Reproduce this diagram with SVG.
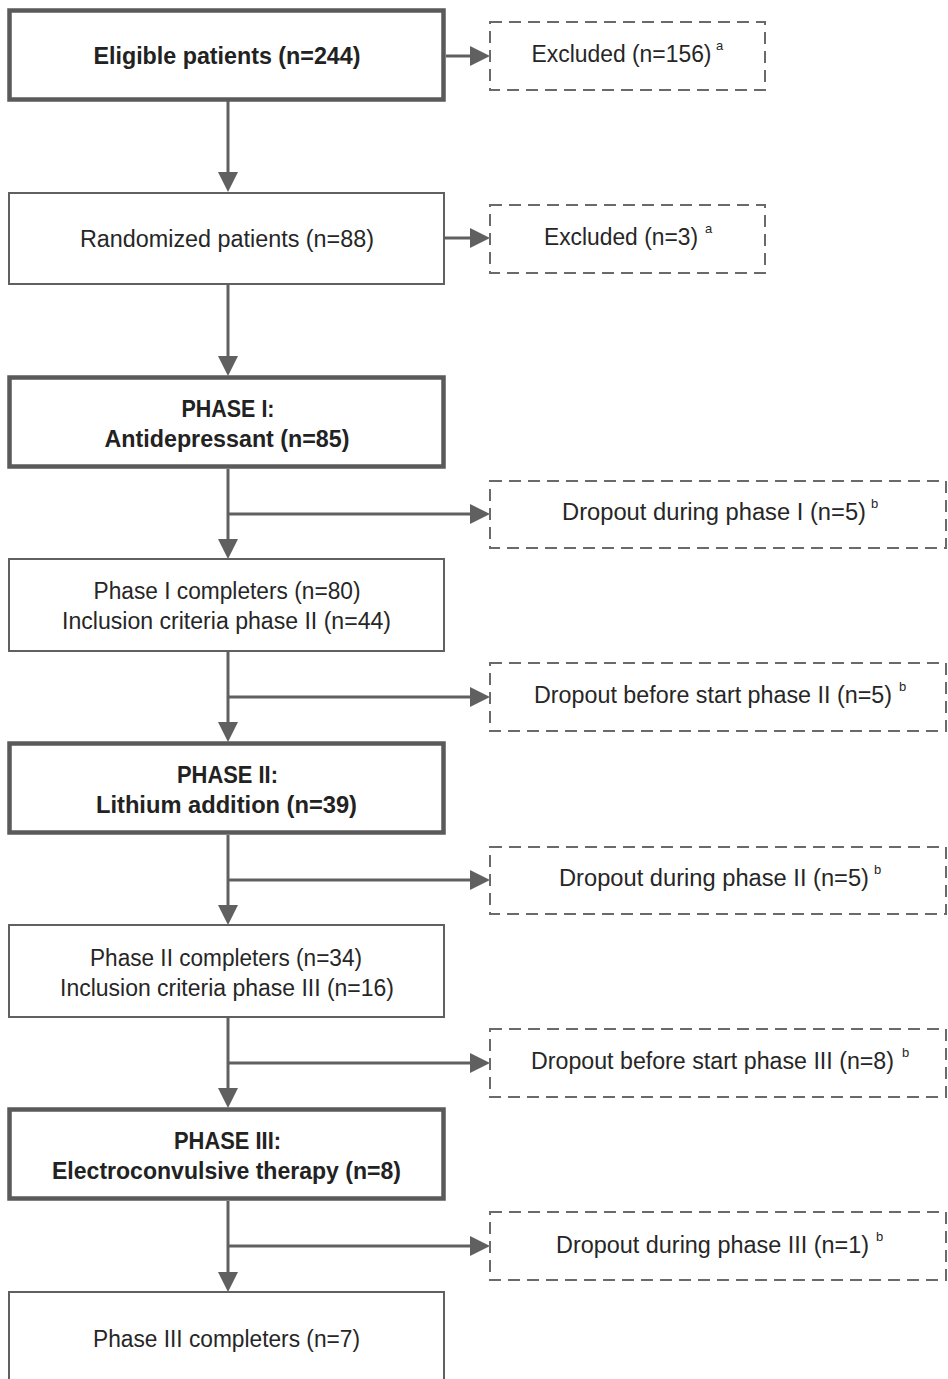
<svg xmlns="http://www.w3.org/2000/svg" width="948" height="1379" viewBox="0 0 948 1379">
<style>
.box{fill:#fff;stroke:#606060;stroke-width:2}
.bold{fill:#fff;stroke:#5a5a5a;stroke-width:4.5}
.dash{fill:#fff;stroke:#6a6a6a;stroke-width:2;stroke-dasharray:12 7}
.t{font-family:"Liberation Sans",Arial,sans-serif;font-size:23px;fill:#262626;text-anchor:middle}
.tb{font-family:"Liberation Sans",Arial,sans-serif;font-size:23px;font-weight:bold;fill:#222;text-anchor:middle}
.s{font-family:"Liberation Sans",Arial,sans-serif;font-size:13px;fill:#262626}
.c{fill:none;stroke:#606060;stroke-width:3}
</style>
<defs>
<marker id="ah" viewBox="0 0 20 20" refX="10" refY="10" markerWidth="20" markerHeight="20" markerUnits="userSpaceOnUse" orient="auto">
<path d="M0,0 L20,10 L0,20 z" fill="#606060"/>
</marker>
</defs>
<g id="connectors">
<line class="c" x1="446" y1="56" x2="480" y2="56" marker-end="url(#ah)"/>
<line class="c" x1="228" y1="101" x2="228" y2="182" marker-end="url(#ah)"/>
<line class="c" x1="445" y1="238" x2="480" y2="238" marker-end="url(#ah)"/>
<line class="c" x1="228" y1="285" x2="228" y2="366" marker-end="url(#ah)"/>
<line class="c" x1="228" y1="469" x2="228" y2="549" marker-end="url(#ah)"/>
<line class="c" x1="228" y1="514" x2="480" y2="514" marker-end="url(#ah)"/>
<line class="c" x1="228" y1="652" x2="228" y2="732" marker-end="url(#ah)"/>
<line class="c" x1="228" y1="697" x2="480" y2="697" marker-end="url(#ah)"/>
<line class="c" x1="228" y1="835" x2="228" y2="915" marker-end="url(#ah)"/>
<line class="c" x1="228" y1="880" x2="480" y2="880" marker-end="url(#ah)"/>
<line class="c" x1="228" y1="1018" x2="228" y2="1098" marker-end="url(#ah)"/>
<line class="c" x1="228" y1="1063" x2="480" y2="1063" marker-end="url(#ah)"/>
<line class="c" x1="228" y1="1201" x2="228" y2="1282" marker-end="url(#ah)"/>
<line class="c" x1="228" y1="1246" x2="480" y2="1246" marker-end="url(#ah)"/>
</g>
<g id="eligible">
<rect class="bold" x="9.5" y="10.5" width="434" height="89"/>
<text class="tb" x="227" y="64" textLength="267" lengthAdjust="spacingAndGlyphs">Eligible patients (n=244)</text>
</g>
<g id="excluded1">
<rect class="dash" x="490" y="22" width="275" height="68"/>
<text class="t" x="621.5" y="62" textLength="180" lengthAdjust="spacingAndGlyphs">Excluded (n=156)</text>
<text class="s" x="716" y="50">a</text>
</g>
<g id="randomized">
<rect class="box" x="9" y="193" width="435" height="91"/>
<text class="t" x="227" y="247" textLength="294" lengthAdjust="spacingAndGlyphs">Randomized patients (n=88)</text>
</g>
<g id="excluded2">
<rect class="dash" x="490" y="205" width="275" height="68"/>
<text class="t" x="621" y="245" textLength="154" lengthAdjust="spacingAndGlyphs">Excluded (n=3)</text>
<text class="s" x="705" y="233">a</text>
</g>
<g id="phase1">
<rect class="bold" x="9.5" y="377.5" width="434" height="89"/>
<text class="tb" x="228" y="417" textLength="93" lengthAdjust="spacingAndGlyphs">PHASE I:</text>
<text class="tb" x="227" y="447" textLength="245" lengthAdjust="spacingAndGlyphs">Antidepressant (n=85)</text>
</g>
<g id="dropout1">
<rect class="dash" x="490" y="481" width="456" height="67"/>
<text class="t" x="714" y="520" textLength="304" lengthAdjust="spacingAndGlyphs">Dropout during phase I (n=5)</text>
<text class="s" x="871" y="508">b</text>
</g>
<g id="completers1">
<rect class="box" x="9" y="559" width="435" height="92"/>
<text class="t" x="227" y="599" textLength="267" lengthAdjust="spacingAndGlyphs">Phase I completers (n=80)</text>
<text class="t" x="226.5" y="629" textLength="329" lengthAdjust="spacingAndGlyphs">Inclusion criteria phase II (n=44)</text>
</g>
<g id="dropout2">
<rect class="dash" x="490" y="663" width="456" height="68"/>
<text class="t" x="713" y="703" textLength="358" lengthAdjust="spacingAndGlyphs">Dropout before start phase II (n=5)</text>
<text class="s" x="899" y="691">b</text>
</g>
<g id="phase2">
<rect class="bold" x="9.5" y="743.5" width="434" height="89"/>
<text class="tb" x="227.5" y="783" textLength="101" lengthAdjust="spacingAndGlyphs">PHASE II:</text>
<text class="tb" x="226.5" y="813" textLength="261" lengthAdjust="spacingAndGlyphs">Lithium addition (n=39)</text>
</g>
<g id="dropout3">
<rect class="dash" x="490" y="847" width="456" height="67"/>
<text class="t" x="714" y="886" textLength="310" lengthAdjust="spacingAndGlyphs">Dropout during phase II (n=5)</text>
<text class="s" x="874" y="874">b</text>
</g>
<g id="completers2">
<rect class="box" x="9" y="925" width="435" height="92"/>
<text class="t" x="226" y="966" textLength="272" lengthAdjust="spacingAndGlyphs">Phase II completers (n=34)</text>
<text class="t" x="227" y="996" textLength="334" lengthAdjust="spacingAndGlyphs">Inclusion criteria phase III (n=16)</text>
</g>
<g id="dropout4">
<rect class="dash" x="490" y="1029" width="456" height="68"/>
<text class="t" x="712.5" y="1069" textLength="363" lengthAdjust="spacingAndGlyphs">Dropout before start phase III (n=8)</text>
<text class="s" x="902" y="1057">b</text>
</g>
<g id="phase3">
<rect class="bold" x="9.5" y="1109.5" width="434" height="89"/>
<text class="tb" x="227.5" y="1149" textLength="107" lengthAdjust="spacingAndGlyphs">PHASE III:</text>
<text class="tb" x="226.5" y="1179" textLength="349" lengthAdjust="spacingAndGlyphs">Electroconvulsive therapy (n=8)</text>
</g>
<g id="dropout5">
<rect class="dash" x="490" y="1212" width="456" height="68"/>
<text class="t" x="712.5" y="1253" textLength="313" lengthAdjust="spacingAndGlyphs">Dropout during phase III (n=1)</text>
<text class="s" x="876" y="1241">b</text>
</g>
<g id="completers3">
<rect class="box" x="9" y="1292" width="435" height="90"/>
<text class="t" x="226.5" y="1347" textLength="267" lengthAdjust="spacingAndGlyphs">Phase III completers (n=7)</text>
</g>
</svg>
